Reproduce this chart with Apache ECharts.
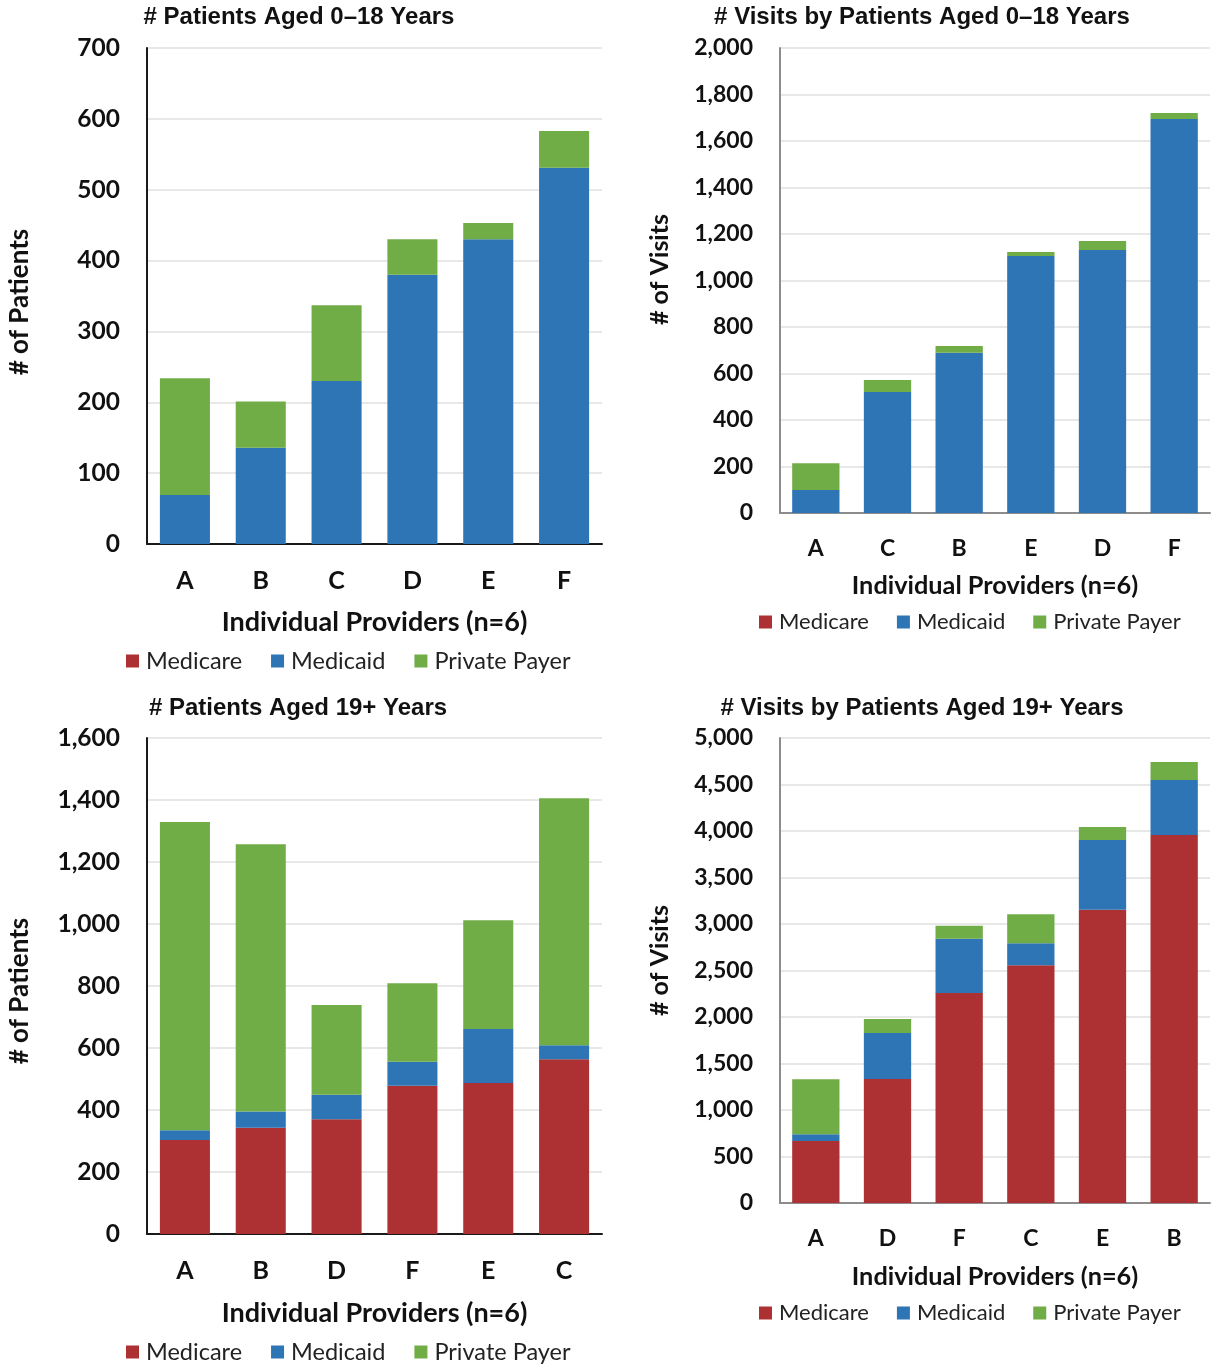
<!DOCTYPE html>
<html>
<head>
<meta charset="utf-8">
<script src="https://cdn.jsdelivr.net/npm/echarts@6/dist/echarts.min.js"></script>
<style>
  html, body { margin: 0; padding: 0; background: #ffffff; }
  #chart { width: 1214px; height: 1365px; }
</style>
</head>
<body>
<div id="chart"></div>
<script>
// Payer names shared by all four panels
const payers = ['Medicare', 'Medicaid', 'Private Payer'];

// Panel 1: patients aged 0–18
const kidsPatientsCats = ['A', 'B', 'C', 'D', 'E', 'F'];
const kidsPatientsMedicare = [0, 0, 0, 0, 0, 0];
const kidsPatientsMedicaid = [69, 136, 230, 380, 430, 531];
const kidsPatientsPrivate = [165, 65, 107, 50, 23, 52];

// Panel 2: visits by patients aged 0–18
const kidsVisitsCats = ['A', 'C', 'B', 'E', 'D', 'F'];
const kidsVisitsMedicare = [0, 0, 0, 0, 0, 0];
const kidsVisitsMedicaid = [99, 520, 689, 1105, 1131, 1695];
const kidsVisitsPrivate = [115, 52, 29, 18, 39, 25];

// Panel 3: patients aged 19+
const adultPatientsCats = ['A', 'B', 'D', 'F', 'E', 'C'];
const adultPatientsMedicare = [303, 343, 370, 478, 487, 564];
const adultPatientsMedicaid = [32, 52, 79, 78, 174, 45];
const adultPatientsPrivate = [994, 862, 290, 253, 351, 797];

// Panel 4: visits by patients aged 19+
const adultVisitsCats = ['A', 'D', 'F', 'C', 'E', 'B'];
const adultVisitsMedicare = [667, 1333, 2258, 2556, 3154, 3957];
const adultVisitsMedicaid = [72, 495, 584, 236, 749, 591];
const adultVisitsPrivate = [591, 150, 140, 312, 140, 194];

// Axis scales per panel
const yMax = [700, 2000, 1600, 5000];
const yStep = [100, 200, 200, 500];

const payerColors = ['#AD3133', '#2E75B6', '#70AD47'];
const calibriLike = 'Lato, "Open Sans", sans-serif';
const arialLike = '"Liberation Sans", Arial, sans-serif';

// Left-column panels use slightly larger text than the right-column ones
const bigText = { legend: 23.5, axisName: 27, tick: 24.5, cat: 25, yName: 26 };
const smallText = { legend: 22, axisName: 25.3, tick: 23, cat: 23, yName: 25 };

const panels = [
  { title: '# Patients Aged 0–18 Years', yName: '# of Patients', cats: kidsPatientsCats,
    data: [kidsPatientsMedicare, kidsPatientsMedicaid, kidsPatientsPrivate],
    grid: { left: 147, top: 48, width: 455, height: 496 }, titleX: 299, titleY: 5,
    legendX: 126, legendY: 649, axisColor: '#1a1a1a', nameGapX: 65, nameGapY: 114,
    yNamePad: [0, 12, 0, 0], text: bigText, legendGap: 29 },
  { title: '# Visits by Patients Aged 0–18 Years', yName: '# of Visits', cats: kidsVisitsCats,
    data: [kidsVisitsMedicare, kidsVisitsMedicaid, kidsVisitsPrivate],
    grid: { left: 780, top: 48, width: 430, height: 465 }, titleX: 922, titleY: 5,
    legendX: 759, legendY: 611, axisColor: '#8c8c8c', nameGapX: 60, nameGapY: 108,
    yNamePad: [0, 0, 0, 22], text: smallText, legendGap: 28 },
  { title: '# Patients Aged 19+ Years', yName: '# of Patients', cats: adultPatientsCats,
    data: [adultPatientsMedicare, adultPatientsMedicaid, adultPatientsPrivate],
    grid: { left: 147, top: 738, width: 455, height: 496 }, titleX: 298, titleY: 696,
    legendX: 126, legendY: 1340, axisColor: '#1a1a1a', nameGapX: 66, nameGapY: 114,
    yNamePad: [0, 10, 0, 0], text: bigText, legendGap: 29 },
  { title: '# Visits by Patients Aged 19+ Years', yName: '# of Visits', cats: adultVisitsCats,
    data: [adultVisitsMedicare, adultVisitsMedicaid, adultVisitsPrivate],
    grid: { left: 780, top: 738, width: 430, height: 465 }, titleX: 922, titleY: 696,
    legendX: 759, legendY: 1302, axisColor: '#8c8c8c', nameGapX: 61, nameGapY: 108,
    yNamePad: [0, 0, 0, 20], text: smallText, legendGap: 28 }
];

const option = {
  animation: false,
  backgroundColor: '#ffffff',
  color: payerColors,
  title: panels.map(p => ({
    text: p.title,
    left: p.titleX,
    top: p.titleY,
    textAlign: 'center',
    padding: 0,
    textStyle: { fontFamily: arialLike, fontWeight: 'bold', fontSize: 24, color: '#111111' }
  })),
  legend: panels.map(p => ({
    data: payers,
    left: p.legendX,
    top: p.legendY,
    orient: 'horizontal',
    icon: 'rect',
    itemWidth: 13,
    itemHeight: 13,
    itemGap: p.legendGap,
    padding: 0,
    selectedMode: false,
    textStyle: { fontFamily: calibriLike, fontSize: p.text.legend, color: '#222222', padding: [0, 0, 0, 2] }
  })),
  grid: panels.map(p => Object.assign({ containLabel: false }, p.grid)),
  xAxis: panels.map((p, i) => ({
    type: 'category',
    gridIndex: i,
    data: p.cats,
    name: 'Individual Providers (n=6)',
    nameLocation: 'middle',
    nameGap: p.nameGapX,
    nameTextStyle: { fontFamily: calibriLike, fontWeight: 'bold', fontSize: p.text.axisName, color: '#111111' },
    axisLine: { show: true, lineStyle: { color: p.axisColor, width: 2 } },
    axisTick: { show: false },
    axisLabel: { fontFamily: calibriLike, fontWeight: 'bold', fontSize: p.text.cat, color: '#111111', margin: 24 }
  })),
  yAxis: panels.map((p, i) => ({
    type: 'value',
    gridIndex: i,
    min: 0,
    max: yMax[i],
    interval: yStep[i],
    name: p.yName,
    nameLocation: 'middle',
    nameGap: p.nameGapY,
    nameRotate: 90,
    nameTextStyle: {
      fontFamily: calibriLike, fontWeight: 'bold', fontSize: p.text.yName, color: '#111111',
      padding: p.yNamePad
    },
    axisLine: { show: true, lineStyle: { color: p.axisColor, width: 2 } },
    axisTick: { show: false },
    splitLine: { show: true, lineStyle: { color: '#e0e0e0', width: 1.5 } },
    axisLabel: {
      fontFamily: calibriLike, fontWeight: 'bold', fontSize: p.text.tick, color: '#111111', margin: 27,
      formatter: v => v.toLocaleString('en-US')
    }
  })),
  series: []
};

panels.forEach((p, i) => {
  payers.forEach((name, k) => {
    option.series.push({
      type: 'bar',
      name: name,
      xAxisIndex: i,
      yAxisIndex: i,
      stack: 'panel' + i,
      data: p.data[k],
      barWidth: '66%',
      itemStyle: { color: payerColors[k] },
      emphasis: { disabled: true }
    });
  });
});

const chart = echarts.init(document.getElementById('chart'), null, { renderer: 'canvas' });
chart.setOption(option);
</script>
</body>
</html>
